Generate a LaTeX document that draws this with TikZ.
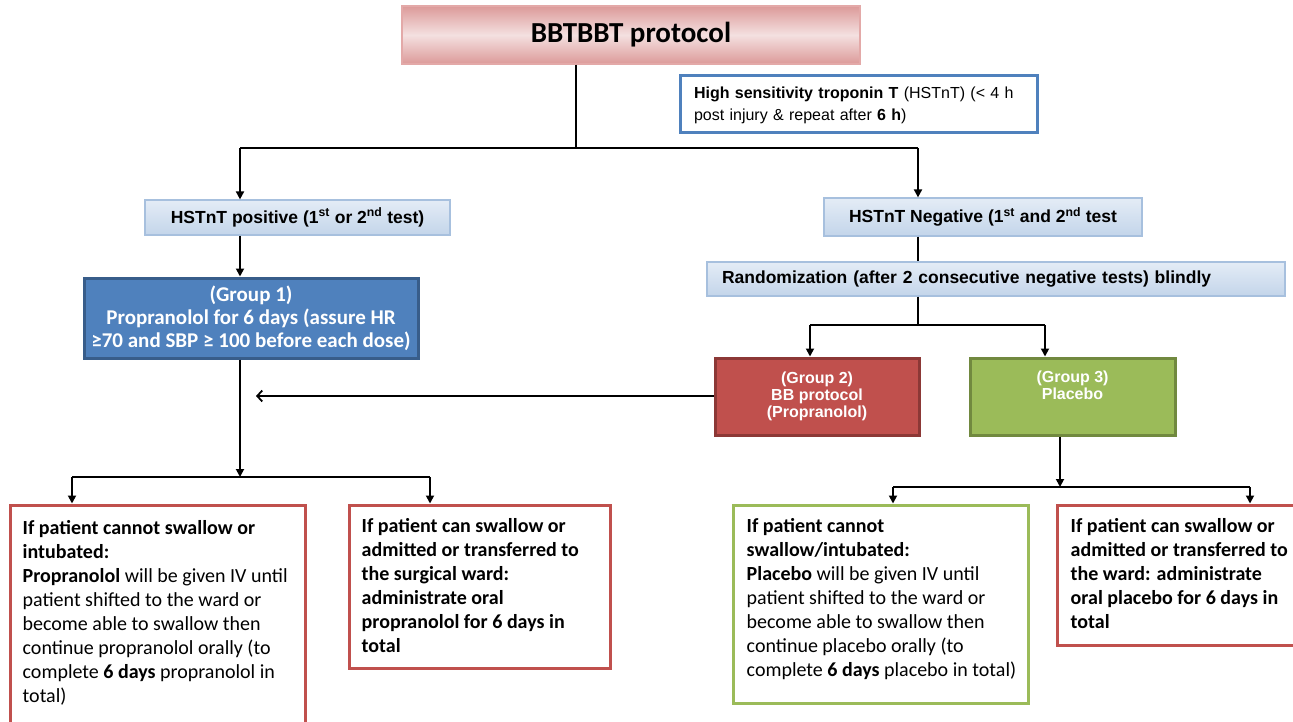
\documentclass[tikz,border=0pt]{standalone}
\usepackage{fontspec}
\setmainfont{Carlito}
\newfontfamily\arialf{Liberation Sans}
\usetikzlibrary{arrows.meta,calc}
\definecolor{titleEdge}{HTML}{DC9A99}
\definecolor{titleMid}{HTML}{F4E0E0}
\definecolor{titleBorder}{HTML}{E3A9A8}
\definecolor{tropBlue}{HTML}{4F81BD}
\definecolor{hsBorder}{HTML}{A7C0DE}
\definecolor{hsTop}{HTML}{E4ECF6}
\definecolor{hsBot}{HTML}{C3D5EA}
\definecolor{gOneFill}{HTML}{4F81BD}
\definecolor{gOneBorder}{HTML}{385D8A}
\definecolor{gTwoFill}{HTML}{C0504D}
\definecolor{gTwoBorder}{HTML}{8C3836}
\definecolor{gThreeFill}{HTML}{9BBB59}
\definecolor{gThreeBorder}{HTML}{71893F}
\definecolor{redLine}{HTML}{C0504D}
\definecolor{greenLine}{HTML}{9BBB59}
\begin{document}
\begin{tikzpicture}[x=1pt,y=-1pt,
  conn/.style={line width=1.8pt,black},
  arr/.style={conn,-{Triangle[length=8pt,width=8pt]}},
  barb/.style={conn,-{Straight Barb[length=5pt,width=11pt,line width=1.8pt]}},
  titlebox/.style={draw=titleBorder,line width=1.2pt,top color=titleEdge,bottom color=titleEdge,middle color=titleMid,font=\fontsize{29}{33}\selectfont\bfseries},
  tropbox/.style={draw=tropBlue,line width=3pt,fill=white,font=\arialf\fontsize{16}{22}\selectfont,align=left,inner xsep=13pt},
  hsbox/.style={draw=hsBorder,line width=1.2pt,top color=hsTop,bottom color=hsBot,font=\arialf\fontsize{17.5}{20}\selectfont\bfseries},
  gonebox/.style={draw=gOneBorder,line width=3pt,fill=gOneFill,text=white,align=center,font=\fontsize{21}{23}\selectfont\bfseries},
  gtwobox/.style={draw=gTwoBorder,line width=3pt,fill=gTwoFill,text=white,align=center,font=\arialf\fontsize{16}{17}\selectfont\bfseries},
  gthreebox/.style={draw=gThreeBorder,line width=3pt,fill=gThreeFill,text=white,align=center,font=\arialf\fontsize{16}{17}\selectfont\bfseries},
  redbox/.style={draw=redLine,line width=3pt,fill=white},
  greenbox/.style={draw=greenLine,line width=3pt,fill=white},
  btext/.style={anchor=north west,inner sep=0pt,align=left,font=\fontsize{20}{24}\selectfont}
]
\useasboundingbox (0,0) rectangle (1293,722);
\clip (0,0) rectangle (1293,722);

% nodes
\node[titlebox,minimum width=458pt,minimum height=58pt] (title) at (631,35) {BBTBBT protocol};
\node[tropbox,minimum width=357pt,minimum height=57pt,text width=329pt] (trop) at (858.5,104.5)
  {\rule{0pt}{14pt}\textbf{High sensitivity troponin T} (HSTnT) (< 4 h\\post injury \& repeat after \textbf{6 h})};
\node[hsbox,minimum width=305pt,minimum height=35pt] (pos) at (297.5,217.5)
  {HSTnT positive (1\textsuperscript{st} or 2\textsuperscript{nd} test)};
\node[hsbox,minimum width=318pt,minimum height=38pt] (neg) at (983,217)
  {HSTnT Negative (1\textsuperscript{st} and 2\textsuperscript{nd} test};
\node[hsbox,minimum width=578pt,minimum height=34pt,text width=548pt,align=left,inner xsep=15pt] (rand) at (996,279)
  {Randomization (after 2 consecutive negative tests) blindly};
\node[gonebox,minimum width=334pt,minimum height=80pt] (g1) at (251,318)
  {(Group 1)\\Propranolol for 6 days (assure HR\\≥70 and SBP ≥ 100 before each dose)};
\node[gtwobox,minimum width=204pt,minimum height=77pt] (g2) at (817,396.5)
  {(Group 2)\\BB protocol\\(Propranolol)};
\node[gthreebox,minimum width=205pt,minimum height=77pt] (g3) at (1072.5,396.5)
  {(Group 3)\\Placebo\\\strut};

\node[redbox,minimum width=295pt,minimum height=240pt] (b1) at (157.5,625) {};
\node[redbox,minimum width=261pt,minimum height=163pt] (b2) at (479.5,586.5) {};
\node[greenbox,minimum width=295pt,minimum height=198pt] (b3) at (880.5,604) {};
\node[redbox,minimum width=253pt,minimum height=140pt] (b4) at (1183.5,575) {};

\node[btext] (t1) at ($(b1.north west)+(14,17)$)
  {\textbf{If patient cannot swallow or}\\\textbf{intubated:}\\\textbf{Propranolol} will be given IV until\\patient shifted to the ward or\\become able to swallow then\\continue propranolol orally (to\\complete \textbf{6 days} propranolol in\\total)};
\node[btext] (t2) at ($(b2.north west)+(14,15)$)
  {\textbf{If patient can swallow or}\\\textbf{admitted or transferred to}\\\textbf{the surgical ward:}\\\textbf{administrate oral}\\\textbf{propranolol for 6 days in}\\\textbf{total}};
\node[btext] (t3) at ($(b3.north west)+(15,15)$)
  {\textbf{If patient cannot}\\\textbf{swallow/intubated:}\\\textbf{Placebo} will be given IV until\\patient shifted to the ward or\\become able to swallow then\\continue placebo orally (to\\complete \textbf{6 days} placebo in total)};
\node[btext] (t4) at ($(b4.north west)+(15,15)$)
  {\textbf{If patient can swallow or}\\\textbf{admitted or transferred to}\\\textbf{the ward: administrate}\\\textbf{oral placebo for 6 days in}\\\textbf{total}};

% connectors
\coordinate (j1) at (576,148);
\coordinate (jl) at (240,148);
\coordinate (jr) at (918,148);
\draw[conn] (title.south -| j1) -- (j1);
\draw[conn] (jl) -- (jr);
\draw[arr] (jl) -- (jl |- pos.north);
\draw[arr] (jr) -- (jr |- neg.north);
\draw[arr] (pos.south -| jl) -- (g1.north -| jl);
\draw[conn] (neg.south -| jr) -- (rand.north -| jr);

\coordinate (j2) at (918,325);
\coordinate (j2l) at (810,325);
\coordinate (j2r) at (1045,325);
\draw[conn] (rand.south -| j2) -- (j2);
\draw[conn] (j2l) -- (j2r);
\draw[arr] (j2l) -- (j2l |- g2.north);
\draw[arr] (j2r) -- (j2r |- g3.north);

\coordinate (g1in) at (256,396);
\draw[barb] (g2.west |- g1in) -- (g1in);

\coordinate (j3) at (240,477);
\coordinate (j3l) at (72,477);
\coordinate (j3r) at (430,477);
\draw[arr] (g1.south -| j3) -- (j3);
\draw[conn] (j3l) -- (j3r);
\draw[arr] (j3l) -- (j3l |- b1.north);
\draw[arr] (j3r) -- (j3r |- b2.north);

\coordinate (j4) at (1060,487);
\coordinate (j4l) at (893,487);
\coordinate (j4r) at (1250,487);
\draw[arr] (g3.south -| j4) -- (j4);
\draw[conn] (j4l) -- (j4r);
\draw[arr] (j4l) -- (j4l |- b3.north);
\draw[arr] (j4r) -- (j4r |- b4.north);
\end{tikzpicture}
\end{document}
